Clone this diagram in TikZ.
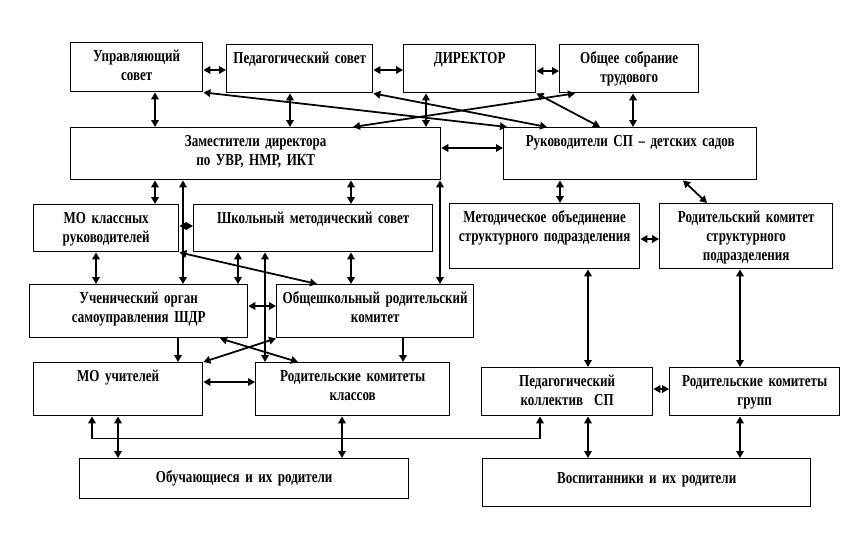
\documentclass[tikz,border=0pt]{standalone}
\usepackage{fontspec}
\setmainfont{Liberation Serif}[FakeStretch=0.78, WordSpace=0.7]
\usetikzlibrary{arrows.meta}

\begin{document}
\begin{tikzpicture}[x=0.02cm, y=-0.02cm,
    blk/.style={draw, line width=0.8pt, anchor=north west, inner xsep=0pt, inner ysep=0pt,
        align=center, text height=0.38cm, font=\bfseries\fontsize{9.5}{10.8}\selectfont},
    conn/.style={line width=1pt, {Triangle[length=1.4mm,width=1.5mm]}-{Triangle[length=1.4mm,width=1.5mm]}},
    one/.style={line width=1pt, -{Triangle[length=1.4mm,width=1.5mm]}}]
    \useasboundingbox (0,0) rectangle (868,539);
    % top row
    \node[blk, text width=2.64cm, text depth=0.6cm] (uprav) at (70,42) {Управляющий\\совет};
    \node[blk, text width=2.92cm, text depth=0.58cm] (pedsov) at (226,44) {Педагогический совет};
    \node[blk, text width=2.64cm, text depth=0.58cm] (dir) at (403,44) {ДИРЕКТОР};
    \node[blk, text width=2.78cm, text depth=0.58cm] (obsch) at (559,44) {Общее собрание\\трудового};
    % second row
    \node[blk, text width=7.4cm, text depth=0.66cm] (zam) at (70,127) {Заместители директора\\по УВР, НМР, ИКТ};
    \node[blk, text width=5.06cm, text depth=0.66cm] (ruk) at (503,127) {Руководители СП – детских садов};
    % school part
    \node[blk, text width=2.9cm, text depth=0.56cm] (moklass) at (33,204) {МО классных\\руководителей};
    \node[blk, text width=4.78cm, text depth=0.56cm] (shms) at (193,204) {Школьный методический совет};
    \node[blk, text width=4.36cm, text depth=0.68cm] (uchorg) at (29,284) {Ученический орган\\самоуправления ШДР};
    \node[blk, text width=3.94cm, text depth=0.68cm] (obshrod) at (276,284) {Общешкольный родительский\\комитет};
    \node[blk, text width=3.38cm, text depth=0.68cm] (mouch) at (33,362) {МО учителей};
    \node[blk, text width=3.88cm, text depth=0.68cm] (rodklass) at (255,362) {Родительские комитеты\\классов};
    \node[blk, text width=6.58cm, text height=0.48cm, text depth=0.32cm] (obuch) at (79,458) {Обучающиеся и их родители};
    % kindergarten part
    \node[blk, text width=3.8cm, text depth=0.92cm] (metob) at (449,203) {Методическое объединение\\структурного подразделения};
    \node[blk, text width=3.46cm, text depth=0.92cm] (rodkom) at (659,203) {Родительский комитет\\структурного\\подразделения};
    \node[blk, text width=3.42cm, text depth=0.58cm] (pedkol) at (481,367) {Педагогический\\коллектив~~СП};
    \node[blk, text width=3.4cm, text depth=0.58cm] (rodgrup) at (669,367) {Родительские комитеты\\групп};
    \node[blk, text width=6.56cm, text height=0.5cm, text depth=0.46cm] (vosp) at (482,458) {Воспитанники и их родители};

    % top row links
    \draw[conn] (uprav.east |- 0,70) -- (pedsov.west |- 0,70);
    \draw[conn] (pedsov.east |- 0,70) -- (dir.west |- 0,70);
    \draw[conn] (dir.east |- 0,71) -- (obsch.west |- 0,71);
    \draw[conn] (uprav.south -| 155,0) -- (zam.north -| 155,0);
    \draw[conn] (pedsov.south -| 290,0) -- (zam.north -| 290,0);
    \draw[conn] (dir.south -| 426,0) -- (zam.north -| 426,0);
    \draw[conn] (obsch.south -| 633,0) -- (ruk.north -| 633,0);
    \draw[conn] (zam.east |- 0,148) -- (ruk.west |- 0,148);
    % crossing lines
    \draw[conn] (uprav.south east) -- (ruk.north -| 507,0);
    \draw[conn] (pedsov.south east) -- (ruk.north -| 547,0);
    \draw[conn] (dir.south east) -- (ruk.north -| 600,0);
    \draw[conn] (zam.north -| 353,0) -- (obsch.south -| 575,0);

    % school links
    \draw[conn] (zam.south -| 155,0) -- (moklass.north -| 155,0);
    \draw[conn] (zam.south -| 183,0) -- (uchorg.north -| 183,0);
    \draw[conn] (zam.south -| 351,0) -- (shms.north -| 351,0);
    \draw[conn] (zam.south -| 440,0) -- (obshrod.north -| 440,0);
    \draw[conn] (moklass.east |- 0,226) -- (shms.west |- 0,226);
    \draw[conn] (moklass.south east) -- (obshrod.north -| 317,0);
    \draw[conn] (moklass.south -| 96,0) -- (uchorg.north -| 96,0);
    \draw[conn] (shms.south -| 238,0) -- (uchorg.north -| 238,0);
    \draw[conn] (shms.south -| 265,0) -- (rodklass.north -| 265,0);
    \draw[conn] (shms.south -| 351,0) -- (obshrod.north -| 351,0);
    \draw[conn] (uchorg.east |- 0,306) -- (obshrod.west |- 0,306);
    \draw[one] (uchorg.south -| 178,0) -- (mouch.north -| 178,0);
    \draw[one] (obshrod.south -| 403,0) -- (rodklass.north -| 403,0);
    \draw[conn] (uchorg.south -| 220,0) -- (rodklass.north -| 298,0);
    \draw[conn] (obshrod.south west) -- (mouch.north east);
    \draw[conn] (mouch.east |- 0,382) -- (rodklass.west |- 0,382);
    \draw[conn] (mouch.south -| 118,0) -- (obuch.north -| 118,0);
    \draw[conn] (rodklass.south -| 342,0) -- (obuch.north -| 342,0);
    \draw[conn] (mouch.south -| 92,0) -- ++(0,22) -| (pedkol.south -| 540,0);

    % kindergarten links
    \draw[conn] (ruk.south -| 560,0) -- (metob.north -| 560,0);
    \draw[conn] (ruk.south -| 683,0) -- (rodkom.north -| 707,0);
    \draw[conn] (metob.east |- 0,239) -- (rodkom.west |- 0,239);
    \draw[conn] (metob.south -| 588,0) -- (pedkol.north -| 588,0);
    \draw[conn] (rodkom.south -| 740,0) -- (rodgrup.north -| 740,0);
    \draw[conn] (pedkol.east |- 0,389) -- (rodgrup.west |- 0,389);
    \draw[conn] (pedkol.south -| 588,0) -- (vosp.north -| 588,0);
    \draw[conn] (rodgrup.south -| 740,0) -- (vosp.north -| 740,0);
\end{tikzpicture}
\end{document}
